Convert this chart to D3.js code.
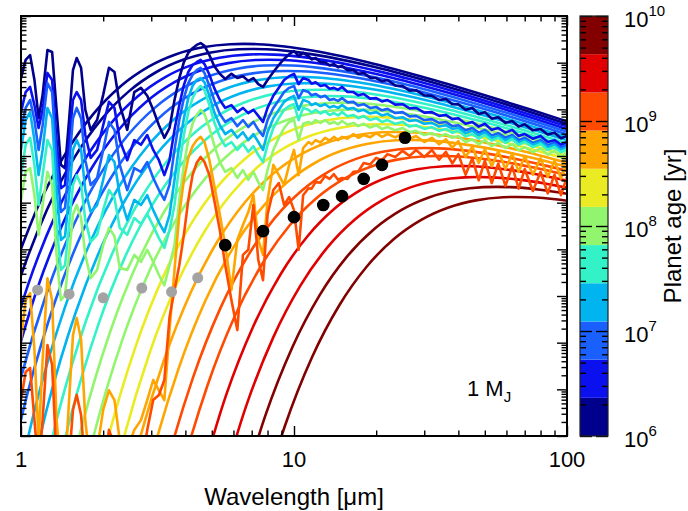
<!DOCTYPE html>
<html>
<head>
<meta charset="utf-8">
<script src="https://cdn.jsdelivr.net/npm/d3@7"></script>
<style>
  body { margin: 0; background: #fff; }
  text { font-family: "Liberation Sans", Arial, Helvetica, sans-serif; fill: #000; }
</style>
</head>
<body>
<script>
// ---- axes ----
var xDomain = [1, 100],            // wavelength [micron]
    yDomain = [1, 1e9],            // flux, arbitrary units (no labels in the figure)
    ageDomain = [1e6, 1e10];       // colour bar [yr]

// colour bar bins (11 levels) and their colours
var ageEdges = [1e6, 2.31e6, 5.34e6, 1.23e7, 2.85e7, 6.58e7, 1.52e8, 3.51e8, 8.11e8, 1.87e9, 4.33e9, 1e10];
var ageColors = ["#00008c", "#0b10ee", "#1a60ff", "#00b4f0", "#34f2c8", "#92f56e",
                 "#ebeb23", "#ffa500", "#ff4b00", "#e00000", "#820000"];

// ---- smooth (blackbody-like) curves: one per age, points are [log10 lambda, log10 flux] ----
var bbAges = [1.23e6, 1.87e6, 2.85e6, 4.33e6, 6.58e6, 1.0e7, 1.52e7, 2.31e7, 3.51e7, 5.34e7, 8.11e7,
              1.23e8, 1.87e8, 2.85e8, 4.33e8, 6.58e8, 1.0e9, 1.52e9, 2.31e9, 3.51e9, 5.34e9, 8.11e9];
var bbCurves = [
  [[-0.034,3.484],[0.066,4.967],[0.166,6.082],[0.266,6.907],[0.366,7.500],[0.466,7.910],[0.566,8.176],[0.666,8.329],[0.766,8.396],[0.816,8.403],[0.866,8.396],[0.966,8.347],[1.066,8.261],[1.166,8.148],[1.266,8.015],[1.366,7.866],[1.466,7.706],[1.566,7.537],[1.666,7.361],[1.766,7.179],[1.866,6.994],[1.966,6.806],[2.066,6.615]],
  [[-0.104,1.431],[-0.004,3.374],[0.096,4.857],[0.196,5.972],[0.296,6.797],[0.396,7.390],[0.496,7.800],[0.596,8.066],[0.696,8.219],[0.796,8.286],[0.846,8.293],[0.896,8.286],[0.996,8.237],[1.096,8.151],[1.196,8.038],[1.296,7.905],[1.396,7.756],[1.496,7.596],[1.596,7.427],[1.696,7.251],[1.796,7.069],[1.896,6.884],[1.996,6.696],[2.096,6.505]],
  [[-0.073,1.318],[0.027,3.261],[0.127,4.744],[0.227,5.859],[0.327,6.684],[0.427,7.277],[0.527,7.687],[0.627,7.953],[0.727,8.106],[0.827,8.173],[0.877,8.180],[0.927,8.173],[1.027,8.124],[1.127,8.038],[1.227,7.925],[1.327,7.792],[1.427,7.643],[1.527,7.483],[1.627,7.314],[1.727,7.138],[1.827,6.956],[1.927,6.771],[2.027,6.583]],
  [[-0.041,1.202],[0.059,3.145],[0.159,4.628],[0.259,5.743],[0.359,6.568],[0.459,7.161],[0.559,7.571],[0.659,7.837],[0.759,7.990],[0.859,8.057],[0.909,8.064],[0.959,8.057],[1.059,8.008],[1.159,7.922],[1.259,7.809],[1.359,7.676],[1.459,7.527],[1.559,7.367],[1.659,7.198],[1.759,7.022],[1.859,6.840],[1.959,6.655],[2.059,6.467]],
  [[-0.108,-1.442],[-0.008,1.083],[0.092,3.026],[0.192,4.509],[0.292,5.624],[0.392,6.449],[0.492,7.042],[0.592,7.452],[0.692,7.718],[0.792,7.871],[0.892,7.938],[0.942,7.945],[0.992,7.938],[1.092,7.889],[1.192,7.803],[1.292,7.690],[1.392,7.557],[1.492,7.408],[1.592,7.248],[1.692,7.079],[1.792,6.903],[1.892,6.721],[1.992,6.536],[2.092,6.348]],
  [[-0.074,-1.564],[0.026,0.961],[0.126,2.904],[0.226,4.387],[0.326,5.502],[0.426,6.327],[0.526,6.920],[0.626,7.330],[0.726,7.596],[0.826,7.749],[0.926,7.816],[0.976,7.823],[1.026,7.816],[1.126,7.767],[1.226,7.681],[1.326,7.568],[1.426,7.435],[1.526,7.286],[1.626,7.126],[1.726,6.957],[1.826,6.781],[1.926,6.599],[2.026,6.414]],
  [[-0.038,-1.692],[0.062,0.833],[0.162,2.776],[0.262,4.259],[0.362,5.374],[0.462,6.199],[0.562,6.792],[0.662,7.202],[0.762,7.468],[0.862,7.621],[0.962,7.688],[1.012,7.695],[1.062,7.688],[1.162,7.639],[1.262,7.553],[1.362,7.440],[1.462,7.307],[1.562,7.158],[1.662,6.998],[1.762,6.829],[1.862,6.653],[1.962,6.471],[2.062,6.286]],
  [[0.000,-1.826],[0.100,0.699],[0.200,2.642],[0.300,4.125],[0.400,5.240],[0.500,6.065],[0.600,6.658],[0.700,7.068],[0.800,7.334],[0.900,7.487],[1.000,7.554],[1.050,7.561],[1.100,7.554],[1.200,7.505],[1.300,7.419],[1.400,7.306],[1.500,7.173],[1.600,7.024],[1.700,6.864],[1.800,6.695],[1.900,6.519],[2.000,6.337],[2.100,6.152]],
  [[0.040,-1.966],[0.140,0.559],[0.240,2.502],[0.340,3.985],[0.440,5.100],[0.540,5.925],[0.640,6.518],[0.740,6.928],[0.840,7.194],[0.940,7.347],[1.040,7.414],[1.090,7.421],[1.140,7.414],[1.240,7.365],[1.340,7.279],[1.440,7.166],[1.540,7.033],[1.640,6.884],[1.740,6.724],[1.840,6.555],[1.940,6.379],[2.040,6.197]],
  [[0.082,-2.102],[0.182,0.423],[0.282,2.366],[0.382,3.849],[0.482,4.964],[0.582,5.789],[0.682,6.382],[0.782,6.792],[0.882,7.058],[0.982,7.211],[1.082,7.278],[1.132,7.285],[1.182,7.278],[1.282,7.229],[1.382,7.143],[1.482,7.030],[1.582,6.897],[1.682,6.748],[1.782,6.588],[1.882,6.419],[1.982,6.243],[2.082,6.061]],
  [[0.126,-2.244],[0.226,0.281],[0.326,2.224],[0.426,3.707],[0.526,4.822],[0.626,5.647],[0.726,6.240],[0.826,6.650],[0.926,6.916],[1.026,7.069],[1.126,7.136],[1.176,7.143],[1.226,7.136],[1.326,7.087],[1.426,7.001],[1.526,6.888],[1.626,6.755],[1.726,6.606],[1.826,6.446],[1.926,6.277],[2.026,6.101]],
  [[0.172,-2.392],[0.272,0.133],[0.372,2.076],[0.472,3.559],[0.572,4.674],[0.672,5.499],[0.772,6.092],[0.872,6.502],[0.972,6.768],[1.072,6.921],[1.172,6.988],[1.222,6.995],[1.272,6.988],[1.372,6.939],[1.472,6.853],[1.572,6.740],[1.672,6.607],[1.772,6.458],[1.872,6.298],[1.972,6.129],[2.072,5.953]],
  [[0.220,-2.546],[0.320,-0.021],[0.420,1.922],[0.520,3.405],[0.620,4.520],[0.720,5.345],[0.820,5.938],[0.920,6.348],[1.020,6.614],[1.120,6.767],[1.220,6.834],[1.270,6.841],[1.320,6.834],[1.420,6.785],[1.520,6.699],[1.620,6.586],[1.720,6.453],[1.820,6.304],[1.920,6.144],[2.020,5.975]],
  [[0.270,-2.706],[0.370,-0.181],[0.470,1.762],[0.570,3.245],[0.670,4.360],[0.770,5.185],[0.870,5.778],[0.970,6.188],[1.070,6.454],[1.170,6.607],[1.270,6.674],[1.320,6.681],[1.370,6.674],[1.470,6.625],[1.570,6.539],[1.670,6.426],[1.770,6.293],[1.870,6.144],[1.970,5.984],[2.070,5.815]],
  [[0.322,-2.872],[0.422,-0.347],[0.522,1.596],[0.622,3.079],[0.722,4.194],[0.822,5.019],[0.922,5.612],[1.022,6.022],[1.122,6.288],[1.222,6.441],[1.322,6.508],[1.372,6.515],[1.422,6.508],[1.522,6.459],[1.622,6.373],[1.722,6.260],[1.822,6.127],[1.922,5.978],[2.022,5.818]],
  [[0.376,-3.044],[0.476,-0.519],[0.576,1.424],[0.676,2.907],[0.776,4.022],[0.876,4.847],[0.976,5.440],[1.076,5.850],[1.176,6.116],[1.276,6.269],[1.376,6.336],[1.426,6.343],[1.476,6.336],[1.576,6.287],[1.676,6.201],[1.776,6.088],[1.876,5.955],[1.976,5.806],[2.076,5.646]],
  [[0.430,-3.216],[0.530,-0.691],[0.630,1.252],[0.730,2.735],[0.830,3.850],[0.930,4.675],[1.030,5.268],[1.130,5.678],[1.230,5.944],[1.330,6.097],[1.430,6.164],[1.480,6.171],[1.530,6.164],[1.630,6.115],[1.730,6.029],[1.830,5.916],[1.930,5.783],[2.030,5.634]],
  [[0.483,-3.385],[0.583,-0.860],[0.683,1.083],[0.783,2.566],[0.883,3.681],[0.983,4.506],[1.083,5.099],[1.183,5.509],[1.283,5.775],[1.383,5.928],[1.483,5.995],[1.533,6.002],[1.583,5.995],[1.683,5.946],[1.783,5.860],[1.883,5.747],[1.983,5.614],[2.083,5.465]],
  [[0.651,-1.074],[0.751,0.869],[0.851,2.352],[0.951,3.467],[1.051,4.292],[1.151,4.885],[1.251,5.295],[1.351,5.561],[1.451,5.714],[1.551,5.781],[1.601,5.788],[1.651,5.781],[1.751,5.732],[1.851,5.646],[1.951,5.533],[2.051,5.400]],
  [[0.724,-1.313],[0.824,0.630],[0.924,2.113],[1.024,3.228],[1.124,4.053],[1.224,4.646],[1.324,5.056],[1.424,5.322],[1.524,5.475],[1.624,5.542],[1.674,5.549],[1.724,5.542],[1.824,5.493],[1.924,5.407],[2.024,5.294]],
  [[0.794,-1.523],[0.894,0.420],[0.994,1.903],[1.094,3.018],[1.194,3.843],[1.294,4.436],[1.394,4.846],[1.494,5.112],[1.594,5.265],[1.694,5.332],[1.744,5.339],[1.794,5.332],[1.894,5.283],[1.994,5.197],[2.094,5.084]],
  [[0.866,-1.739],[0.966,0.204],[1.066,1.687],[1.166,2.802],[1.266,3.627],[1.366,4.220],[1.466,4.630],[1.566,4.896],[1.666,5.049],[1.766,5.116],[1.816,5.123],[1.866,5.116],[1.966,5.067],[2.066,4.981]]
];

// ---- model spectra (noisy curves): shared wavelength grid [micron], log10 flux per age ----
var specWave = [1.00,1.04,1.08,1.12,1.16,1.20,1.25,1.30,1.35,1.40, 1.45,1.50,1.55,1.60,1.66,1.72,1.80,1.90,2.00,2.10,
                2.20,2.30,2.45,2.60,2.75,2.90,3.05,3.20,3.35,3.50, 3.65,3.80,3.95,4.10,4.25,4.40,4.55,4.70,4.90,5.10,
                5.35,5.60,5.90,6.20,6.50,6.80,7.10,7.40,7.70,8.00, 8.40,8.80,9.20,9.60,10.0,10.4,10.8,
                11.3,11.6,12.0,12.5,13.0,13.5,14.0,14.5,15.0,15.7,16.5,17.2,18.0,19.0,20.0,21.0,22.0,23.5,25.0,26.5,
                28.0,30.0,32.0,34.0,36.0,38.0,40.0,42.5,45.0,47.5,50.0,53.0,56.0,59.5,63.0,66.5,70.0,75.0,80.0,85.0,
                90.0,95.0,100];
var specAges = [1.5e6, 3.5e6, 8e6, 1.8e7, 4.3e7, 1.0e8, 5.3e8, 1.2e9];
var specNavy = [7.67,8.06,8.16,7.63,6.81,7.31,8.27,8.23,6.99,5.81, 5.74,6.77,7.84,8.10,7.89,6.99,6.56,6.77,7.31,7.89,
                7.80,7.09,6.56,7.37,7.46,7.29,6.99,6.66,6.39,6.60, 7.20,7.67,8.01,8.21,8.31,8.38,8.42,8.36,8.16,7.93,
                7.76,7.65,7.76,7.67,7.71,7.61,7.67,7.54,7.48,7.63, 7.80,7.95,8.08,8.18,8.25,8.14,8.21,
                8.14,8.07,8.10,8.01,8.01,7.94,7.97,7.90,7.93,7.84,7.84,7.76,7.78,7.68,7.67,7.60,7.63,7.51,7.50,7.40,
                7.41,7.30,7.29,7.20,7.22,7.11,7.11,6.99,7.03,6.90,6.94,6.80,6.83,6.71,6.75,6.63,6.68,6.55,6.58,6.46,
                6.50,6.38,6.43];
var specBlue = [6.94,7.37,7.48,7.09,6.60,6.99,7.78,7.63,6.34,5.31, 5.38,6.34,7.20,7.37,7.20,6.45,5.96,6.13,6.66,7.16,
                7.03,6.34,5.91,6.34,6.24,6.45,6.13,5.91,5.59,5.91, 6.56,7.09,7.52,7.80,7.95,8.01,8.06,7.97,7.74,7.46,
                7.20,7.03,7.09,6.94,7.03,6.92,6.99,6.86,6.73,7.03, 7.29,7.46,7.63,7.71,7.76,7.54,7.67,
                7.63,7.55,7.58,7.50,7.52,7.44,7.46,7.42,7.48,7.37,7.37,7.30,7.33,7.23,7.24,7.17,7.20,7.10,7.11,7.02,
                7.03,6.93,6.94,6.86,6.88,6.79,6.81,6.69,6.73,6.63,6.69,6.56,6.60,6.50,6.56,6.43,6.47,6.37,6.43,6.30,
                6.34,6.24,6.30];
var specMidBlue = [6.56,7.03,7.20,6.77,6.13,6.66,7.56,7.37,5.91,4.80, 4.89,5.81,6.81,7.03,6.81,5.91,5.38,5.53,6.13,6.73,
                6.56,5.81,5.27,5.74,5.66,5.87,5.53,5.27,5.06,5.38, 6.13,6.77,7.24,7.56,7.74,7.84,7.89,7.78,7.50,7.20,
                6.90,6.73,6.81,6.64,6.77,6.62,6.73,6.56,6.43,6.77, 7.03,7.20,7.37,7.46,7.50,7.24,7.41,
                7.37,7.30,7.33,7.26,7.29,7.20,7.22,7.18,7.24,7.15,7.16,7.08,7.11,7.03,7.05,6.98,7.01,6.92,6.94,6.85,
                6.86,6.77,6.79,6.71,6.73,6.64,6.66,6.55,6.60,6.50,6.56,6.44,6.49,6.39,6.45,6.34,6.39,6.28,6.34,6.23,
                6.28,6.18,6.24];
var specLightBlue = [6.13,6.77,6.94,6.34,5.59,6.13,7.03,6.81,5.27,4.20, 4.28,5.16,6.13,6.34,6.13,5.27,4.80,4.95,5.49,6.02,
                5.87,5.16,4.63,5.06,4.95,5.16,4.84,4.58,4.37,4.74, 5.49,6.24,6.81,7.24,7.50,7.63,7.67,7.58,7.29,6.94,
                6.66,6.47,6.56,6.39,6.51,6.34,6.47,6.30,6.13,6.51, 6.81,6.99,7.16,7.24,7.29,6.99,7.20,
                7.16,7.09,7.13,7.07,7.11,7.04,7.07,7.03,7.09,7.01,7.03,6.96,6.99,6.91,6.94,6.87,6.90,6.81,6.83,6.75,
                6.77,6.69,6.71,6.63,6.66,6.58,6.60,6.49,6.54,6.44,6.51,6.39,6.43,6.34,6.41,6.29,6.34,6.24,6.30,6.19,
                6.24,6.13,6.19];
var specAqua = [5.59,6.24,6.39,5.81,4.95,5.59,6.34,6.13,4.52,3.56, 3.66,4.52,5.38,5.59,5.38,4.63,4.16,4.31,4.84,5.27,
                5.10,4.46,4.31,4.67,4.54,4.76,4.50,4.24,4.03,4.41, 4.95,5.81,6.45,6.94,7.24,7.41,7.50,7.41,7.09,6.73,
                6.41,6.21,6.30,6.13,6.26,6.09,6.21,6.02,5.87,6.24, 6.60,6.81,6.99,7.07,7.11,6.77,7.03,
                6.99,6.93,6.99,6.91,6.96,6.88,6.92,6.87,6.94,6.85,6.88,6.81,6.86,6.77,6.81,6.73,6.77,6.69,6.73,6.63,
                6.66,6.58,6.62,6.54,6.58,6.50,6.54,6.42,6.47,6.37,6.45,6.33,6.39,6.28,6.36,6.24,6.30,6.19,6.26,6.13,
                6.19,6.08,6.15];
var specGreen = [5.06,5.66,5.74,5.16,4.31,4.95,5.66,5.38,3.88,2.91, 3.02,3.88,4.74,4.95,4.67,3.88,3.38,3.56,4.09,4.46,
                4.28,3.60,3.56,3.88,3.73,3.99,3.73,3.45,3.23,3.66, 4.09,5.06,5.81,6.34,6.69,6.88,6.99,6.90,6.60,6.24,
                5.87,5.66,5.74,5.53,5.70,5.49,5.66,5.44,5.27,5.70, 6.13,6.39,6.60,6.73,6.77,6.34,6.69,
                6.73,6.69,6.77,6.71,6.77,6.69,6.73,6.68,6.75,6.67,6.71,6.64,6.69,6.61,6.66,6.58,6.62,6.55,6.60,6.51,
                6.54,6.45,6.49,6.42,6.47,6.39,6.43,6.30,6.36,6.25,6.34,6.21,6.28,6.17,6.26,6.12,6.19,6.08,6.17,6.03,
                6.11,5.98,6.06];
var specOrange = [2.06,2.91,3.06,1.84,-0.09,1.63,3.38,2.91,0.34,-0.73, -0.73,0.77,2.16,2.53,2.06,0.34,-0.73,-0.30,0.56,0.98,
                0.77,-0.09,-0.30,0.13,0.34,0.77,1.20,0.98,0.77,2.27, 3.56,4.74,5.49,5.96,6.21,6.34,6.41,6.30,5.91,5.38,
                4.74,4.09,3.13,4.20,4.52,4.80,5.16,4.20,3.88,5.06, 5.81,5.59,5.38,5.81,6.13,5.59,6.17,
                6.30,6.25,6.34,6.29,6.39,6.33,6.41,6.34,6.41,6.37,6.47,6.39,6.45,6.40,6.49,6.41,6.47,6.40,6.49,6.37,
                6.43,6.30,6.39,6.25,6.36,6.18,6.32,5.98,6.20,5.85,6.15,5.78,6.10,5.72,6.05,5.66,6.00,5.60,5.95,5.55,
                5.90,5.52,5.85];
var specOrangeRed = [0.77,1.37,1.46,0.34,-0.73,0.34,1.95,1.52,-0.52,-0.94, -0.94,-0.52,0.56,0.88,0.45,-0.73,-0.94,-0.94,-0.73,0.13,
                -0.19,-0.94,-0.94,-0.94,-0.73,0.13,0.77,0.88,1.20,2.55, 3.13,3.66,4.31,5.06,5.59,5.85,5.98,5.87,5.59,5.06,
                4.41,3.66,2.91,2.27,3.88,3.99,4.95,3.77,3.34,4.74, 5.27,5.42,4.95,5.12,4.84,3.99,5.16,
                5.31,5.30,5.44,5.43,5.57,5.51,5.61,5.49,5.53,5.51,5.66,5.67,5.85,5.82,5.96,5.91,6.04,5.98,6.11,6.00,
                6.13,5.98,6.13,5.92,6.09,5.84,6.04,5.60,5.95,5.48,5.90,5.42,5.84,5.36,5.78,5.30,5.72,5.25,5.66,5.20,
                5.60,5.16,5.55];
var specSeries = [specNavy, specBlue, specMidBlue, specLightBlue, specAqua, specGreen, specOrange, specOrangeRed];

// ---- photometric points (log10 flux) ----
var grayWave = [1.15, 1.50, 2.00, 2.77, 3.56, 4.44],
    grayFlux = [3.13, 3.04, 2.96, 3.17, 3.09, 3.39];
var blackWave = [5.6, 7.7, 10.0, 12.8, 15.0, 18.0, 21.0, 25.5],
    blackFlux = [4.09, 4.39, 4.69, 4.95, 5.14, 5.51, 5.81, 6.39];

var xTitle = "Wavelength [\u03bcm]", cbTitle = "Planet age [yr]";

// **************************
var w = 688, h = 511;
var margin = {top: 16, right: 121, bottom: 75, left: 21},
    width = w - margin.left - margin.right,     // 546
    height = h - margin.top - margin.bottom;    // 420

var svg = d3.select("body").append("svg")
    .attr("width", w)
    .attr("height", h);

var x = d3.scaleLog().domain(xDomain).range([margin.left, margin.left + width]),
    y = d3.scaleLog().domain(yDomain).range([margin.top + height, margin.top]),
    color = d3.scaleThreshold().domain(ageEdges.slice(1, -1)).range(ageColors);

function isMajor(v) {
  var l = Math.log10(v);
  return Math.abs(l - Math.round(l)) < 1e-6;
}

svg.append("clipPath").attr("id", "plotclip")
  .append("rect")
    .attr("x", margin.left).attr("y", margin.top)
    .attr("width", width).attr("height", height);
var plot = svg.append("g").attr("clip-path", "url(#plotclip)");

// smooth curves
var bbLine = d3.line()
    .x(function(d) { return x(Math.pow(10, d[0])); })
    .y(function(d) { return y(Math.pow(10, d[1])); })
    .curve(d3.curveMonotoneX);
plot.selectAll(".bb")
  .data(bbCurves)
  .enter().append("path")
    .attr("class", "bb")
    .attr("fill", "none")
    .attr("stroke", function(d, i) { return color(bbAges[i]); })
    .attr("stroke-width", 2.6)
    .attr("d", bbLine);

// model spectra
var specLine = d3.line()
    .x(function(d, i) { return x(specWave[i]); })
    .y(function(d) { return y(Math.pow(10, d)); });
plot.selectAll(".spec")
  .data(specSeries)
  .enter().append("path")
    .attr("class", "spec")
    .attr("fill", "none")
    .attr("stroke", function(d, i) { return color(specAges[i]); })
    .attr("stroke-width", 2.6)
    .attr("stroke-linejoin", "round")
    .attr("d", specLine);

// photometric points
plot.selectAll(".gdot")
  .data(grayWave)
  .enter().append("circle")
    .attr("cx", function(d) { return x(d); })
    .attr("cy", function(d, i) { return y(Math.pow(10, grayFlux[i])); })
    .attr("r", 5.5)
    .attr("fill", "#a3a3a3");
plot.selectAll(".bdot")
  .data(blackWave)
  .enter().append("circle")
    .attr("cx", function(d) { return x(d); })
    .attr("cy", function(d, i) { return y(Math.pow(10, blackFlux[i])); })
    .attr("r", 6.3)
    .attr("fill", "#000");

// axes: inward ticks on all four sides, no y labels
var xTicks = x.ticks(), yTicks = y.ticks();
function tickAxis(axis, vals, size, tx, ty) {
  svg.append("g")
    .attr("transform", "translate(" + tx + "," + ty + ")")
    .call(axis.tickValues(vals).tickSize(-size).tickFormat(""))
    .call(function(g) { g.select(".domain").remove(); })
    .selectAll("line").attr("stroke-width", 1.4);
}
var yBottom = margin.top + height, xRight = margin.left + width;
tickAxis(d3.axisBottom(x), xTicks.filter(isMajor), 10, 0, yBottom);
tickAxis(d3.axisBottom(x), xTicks.filter(function(v) { return !isMajor(v); }), 5.5, 0, yBottom);
tickAxis(d3.axisTop(x), xTicks.filter(isMajor), 10, 0, margin.top);
tickAxis(d3.axisTop(x), xTicks.filter(function(v) { return !isMajor(v); }), 5.5, 0, margin.top);
tickAxis(d3.axisLeft(y), yTicks.filter(isMajor), 10, margin.left, 0);
tickAxis(d3.axisLeft(y), yTicks.filter(function(v) { return !isMajor(v); }), 5.5, margin.left, 0);
tickAxis(d3.axisRight(y), yTicks.filter(isMajor), 10, xRight, 0);
tickAxis(d3.axisRight(y), yTicks.filter(function(v) { return !isMajor(v); }), 5.5, xRight, 0);

svg.append("rect")
    .attr("x", margin.left).attr("y", margin.top)
    .attr("width", width).attr("height", height)
    .attr("fill", "none")
    .attr("stroke", "#000")
    .attr("stroke-width", 2);

svg.selectAll(".xlab")
  .data(xTicks.filter(isMajor))
  .enter().append("text")
    .attr("x", function(d) { return x(d); })
    .attr("y", 467)
    .attr("text-anchor", "middle")
    .style("font-size", "22px")
    .text(function(d) { return d3.format("d")(d); });

svg.append("text")
    .attr("x", margin.left + width / 2)
    .attr("y", 505)
    .attr("text-anchor", "middle")
    .style("font-size", "24px")
    .text(xTitle);

// mass label
var mLab = svg.append("text")
    .attr("x", 467).attr("y", 396)
    .style("font-size", "22px")
    .text("1 M");
mLab.append("tspan").attr("dy", 6).style("font-size", "15px").text("J");

// ---- colour bar ----
var cbX = 580, cbW = 28;
var cy = d3.scaleLog().domain(ageDomain).range([margin.top + height, margin.top]);
svg.selectAll(".cbin")
  .data(ageColors)
  .enter().append("rect")
    .attr("x", cbX)
    .attr("y", function(d, i) { return cy(ageEdges[i + 1]); })
    .attr("width", cbW)
    .attr("height", function(d, i) { return cy(ageEdges[i]) - cy(ageEdges[i + 1]); })
    .attr("fill", function(d) { return d; });

var cTicks = cy.ticks();
tickAxis(d3.axisLeft(cy), cTicks.filter(isMajor), 12, cbX, 0);
tickAxis(d3.axisLeft(cy), cTicks.filter(function(v) { return !isMajor(v); }), 6, cbX, 0);
tickAxis(d3.axisRight(cy), cTicks.filter(isMajor), 12, cbX + cbW, 0);
tickAxis(d3.axisRight(cy), cTicks.filter(function(v) { return !isMajor(v); }), 6, cbX + cbW, 0);

svg.append("rect")
    .attr("x", cbX).attr("y", margin.top)
    .attr("width", cbW).attr("height", height)
    .attr("fill", "none")
    .attr("stroke", "#222")
    .attr("stroke-width", 1.2);

var cLab = svg.selectAll(".clab")
  .data(cTicks.filter(isMajor))
  .enter().append("text")
    .attr("x", 624)
    .attr("y", function(d) { return cy(d) + 11; })
    .style("font-size", "22px")
    .text("10");
cLab.append("tspan")
    .attr("dy", -11)
    .style("font-size", "15px")
    .text(function(d) { return Math.round(Math.log10(d)); });

svg.append("text")
    .attr("transform", "translate(681," + (margin.top + height / 2) + ") rotate(-90)")
    .attr("text-anchor", "middle")
    .style("font-size", "24px")
    .text(cbTitle);
</script>
</body>
</html>
